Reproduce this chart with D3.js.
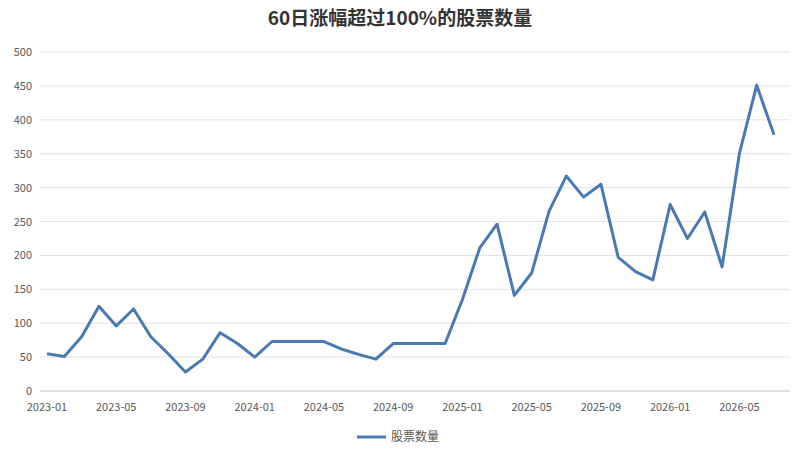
<!DOCTYPE html>
<html><head><meta charset="utf-8">
<script src="https://cdn.jsdelivr.net/npm/d3@7"></script>
<style>body{margin:0;background:#fff;font-family:"Noto Sans CJK SC","Noto Sans",sans-serif;}</style>
</head><body><svg id="c" width="800" height="450"></svg>
<script>
// monthly, 2023-01 .. 2026-07
var months = [];
for (var y = 2023; y <= 2026; y++) {
    for (var m = 1; m <= 12; m++) {
        if (y === 2026 && m > 7) break;
        months.push(y + '-' + (m < 10 ? '0' + m : m));
    }
}
var counts = [55, 51, 80, 125, 96, 121, 80, 55, 28, 47, 86, 70, 50, 73, 73, 73, 73, 62, 54, 47,
    70, 70, 70, 70, 135, 211, 246, 141, 174, 265, 317, 286, 305, 197, 176, 164, 275, 225, 264, 183,
    350, 451, 378];
var yTicks = [0, 50, 100, 150, 200, 250, 300, 350, 400, 450, 500];
var seriesName = '股票数量';
var title = '60日涨幅超过100%的股票数量';

var svg = d3.select('#c');
var x = d3.scalePoint().domain(months).range([47, 774]);
var yScale = d3.scaleLinear().domain([0, 500]).range([391, 52]);

svg.append('text').attr('x', 400).attr('y', 25).attr('text-anchor', 'middle')
    .style('font-size', '19px').style('font-weight', 'bold').attr('fill', '#333')
    .text(title);

svg.selectAll('.grid').data(yTicks).enter().append('line')
    .attr('x1', 40).attr('x2', 790)
    .attr('y1', function (d) { return yScale(d); }).attr('y2', function (d) { return yScale(d); })
    .attr('stroke', function (d) { return d === 0 ? '#bfbfbf' : '#e3e3e3'; });

svg.selectAll('.yl').data(yTicks).enter().append('text')
    .attr('x', 32).attr('y', function (d) { return yScale(d) + 4; })
    .attr('text-anchor', 'end').style('font-size', '11px').attr('fill', '#595959')
    .text(function (d) { return d; });

var xLabels = months.filter(function (d, i) { return i % 4 === 0; });
svg.selectAll('.xl').data(xLabels).enter().append('text')
    .attr('x', function (d) { return x(d); }).attr('y', 411)
    .attr('text-anchor', 'middle').style('font-size', '11px').attr('fill', '#595959')
    .text(function (d) { return d; });

var line = d3.line()
    .x(function (d, i) { return x(months[i]); })
    .y(function (d) { return yScale(d); });
svg.append('path').datum(counts).attr('d', line)
    .attr('fill', 'none').attr('stroke', '#4a7ab4').attr('stroke-width', 3)
    .attr('stroke-linejoin', 'round');

svg.append('line').attr('x1', 357).attr('x2', 386).attr('y1', 437).attr('y2', 437)
    .attr('stroke', '#4a7ab4').attr('stroke-width', 3);
svg.append('text').attr('x', 391).attr('y', 441).style('font-size', '12px').attr('fill', '#595959')
    .text(seriesName);
</script></body></html>
